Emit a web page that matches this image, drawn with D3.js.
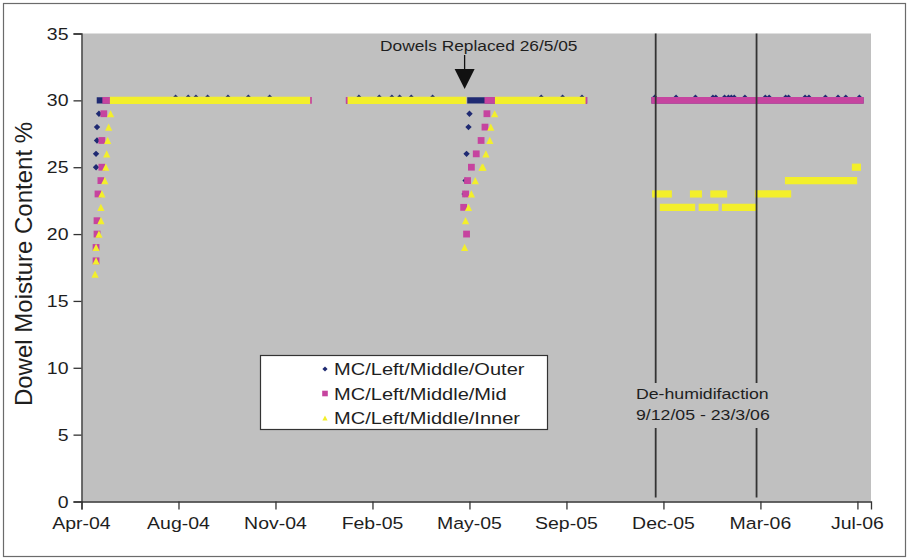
<!DOCTYPE html>
<html>
<head>
<meta charset="utf-8">
<script src="https://cdn.jsdelivr.net/npm/d3@7"></script>
<style>
  body { margin: 0; background: #ffffff; }
  svg { display: block; }
  text { font-family: "Liberation Sans", Arial, sans-serif; fill: #1e1e1e; }
</style>
</head>
<body>
<svg id="chart" width="909" height="560"></svg>
<script>
// ---- axis ticks ----
const xTickDates  = ["2004-04-26","2004-08-04","2004-11-12","2005-02-20","2005-05-31",
                     "2005-09-08","2005-12-17","2006-03-27","2006-07-05"];
const xTickLabels = ["Apr-04","Aug-04","Nov-04","Feb-05","May-05","Sep-05","Dec-05","Mar-06","Jul-06"];
const yTicks      = [0, 5, 10, 15, 20, 25, 30, 35];
const xDomain     = ["2004-04-26", "2006-07-19"];

// ---- series names ----
const seriesNames = ["MC/Left/Middle/Outer", "MC/Left/Middle/Mid", "MC/Left/Middle/Inner"];

// ---- single readings [date, moisture %] ----
const outerPoints = [
  ["2004-05-11",25],["2004-05-11",26],["2004-05-12",27],["2004-05-12",28],["2004-05-14",29],
  ["2004-08-01",30.2],["2004-08-14",30.2],["2004-08-22",30.2],["2004-09-03",30.2],["2004-09-24",30.2],
  ["2004-10-15",30.2],["2004-11-06",30.2],
  ["2005-02-06",30.2],["2005-02-27",30.2],["2005-03-12",30.2],["2005-03-20",30.2],["2005-04-01",30.2],
  ["2005-04-23",30.2],
  ["2005-05-26",23],["2005-05-27",24],["2005-05-28",26],["2005-05-30",28],["2005-05-31",29],
  ["2005-08-13",30.2],["2005-09-04",30.2],["2005-09-24",30.2],
  ["2005-12-08",30.2],["2005-12-30",30.2],["2006-01-19",30.2],["2006-02-06",30.2],["2006-02-09",30.2],
  ["2006-02-18",30.2],["2006-02-22",30.2],["2006-02-25",30.2],["2006-02-28",30.2],["2006-03-11",30.2],
  ["2006-04-01",30.2],["2006-04-05",30.2],["2006-04-22",30.2],["2006-04-25",30.2],["2006-05-12",30.2],
  ["2006-05-16",30.2],["2006-06-02",30.2],["2006-06-15",30.2],["2006-06-23",30.2],["2006-07-07",30.2]
];
const midPoints = [
  ["2004-05-11",18],["2004-05-11",19],["2004-05-12",20],["2004-05-12",21],["2004-05-13",23],
  ["2004-05-16",24],["2004-05-17",25],["2004-05-17",27],["2004-05-19",29],
  ["2005-05-25",22],["2005-05-27",23],["2005-05-28",20],["2005-05-29",24],["2005-06-02",25],
  ["2005-06-07",26],["2005-06-12",27],["2005-06-16",28],["2005-06-18",29]
];
const innerPoints = [
  ["2004-05-10",17],["2004-05-11",18],["2004-05-11",19],["2004-05-14",20],["2004-05-16",21],
  ["2004-05-16",22],["2004-05-17",23],["2004-05-20",24],["2004-05-21",25],["2004-05-22",26],
  ["2004-05-23",27],["2004-05-24",28],["2004-05-26",29],
  ["2005-05-26",19],["2005-05-27",21],["2005-05-30",22],["2005-06-02",23],["2005-06-06",24],
  ["2005-06-13",25],["2005-06-14",25],["2005-06-17",26],["2005-06-21",27],["2005-06-22",28],
  ["2005-06-26",29]
];

// ---- runs of identical daily readings [first date, last date, moisture %] ----
const outerRuns = [
  ["2004-05-15","2004-12-14",30], ["2005-01-27","2005-05-24",30],
  ["2005-06-01","2005-09-26",30], ["2005-12-08","2006-07-08",30]
];
const midRuns = [
  ["2004-05-21","2004-12-16",30], ["2005-01-27","2005-05-24",30],
  ["2005-06-19","2005-09-26",30], ["2005-12-08","2006-07-08",30]
];
const innerRuns = [
  ["2004-05-29","2004-12-14",30], ["2005-01-29","2005-05-24",30], ["2005-06-30","2005-09-24",30],
  ["2005-12-09","2005-12-22",23], ["2005-12-17","2006-01-15",22], ["2006-01-17","2006-01-22",23],
  ["2006-01-26","2006-02-08",22], ["2006-02-07","2006-02-17",23], ["2006-02-19","2006-03-20",22],
  ["2006-03-25","2006-04-24",23], ["2006-04-25","2006-07-01",24], ["2006-07-03","2006-07-05",25]
];

// ---- annotations ----
const replacedDate   = "2005-05-26";
const replacedLabel  = "Dowels Replaced 26/5/05";
const dehumidDates   = ["2005-12-09", "2006-03-23"];
const dehumidLabel   = ["De-humidifaction", "9/12/05 - 23/3/06"];
const yAxisTitle     = "Dowel Moisture Content %";

// ---------------------------------------------------------------
const parse = d3.utcParse("%Y-%m-%d");
const svg = d3.select("#chart");
const plot = { left: 81.5, right: 871, top: 33.5, bottom: 501.5 };
const SX = 1.18;             // horizontal stretch of the lettering

const x = d3.scaleUtc().domain(xDomain.map(parse)).range([plot.left, plot.right]);
const y = d3.scaleLinear().domain([0, 35]).range([plot.bottom, plot.top]);

const colors = { outer: "#1f2a72", mid: "#c6449f", inner: "#f3ef2b" };

// outer frame
svg.append("rect").attr("x", 3.5).attr("y", 3.5).attr("width", 902).attr("height", 553)
  .attr("fill", "#ffffff").attr("stroke", "#6b6b6b").attr("stroke-width", 1.2);

// plot area
svg.append("rect").attr("x", plot.left).attr("y", plot.top)
  .attr("width", plot.right - plot.left).attr("height", plot.bottom - plot.top)
  .attr("fill", "#c0c0c0");

// helper for stretched text
function label(g, tx, ty, str, size, anchor) {
  return g.append("text")
    .attr("transform", `translate(${tx},${ty}) scale(${SX},1)`)
    .attr("text-anchor", anchor).attr("font-size", size).text(str);
}

// y axis
const yAxis = svg.append("g").attr("transform", `translate(${plot.left},0)`)
  .call(d3.axisLeft(y).tickValues(yTicks).tickSize(8).tickFormat(""));
yAxis.select(".domain").attr("stroke", "#333").attr("stroke-width", 1.3);
yAxis.selectAll(".tick line").attr("stroke", "#333").attr("stroke-width", 1.3);
yTicks.forEach(v => label(svg, plot.left - 13, y(v) + 6, String(v), 16.5, "end"));

// x axis
const xAxis = svg.append("g").attr("transform", `translate(0,${plot.bottom})`)
  .call(d3.axisBottom(x).tickValues(xTickDates.map(parse)).tickSize(8).tickFormat(""));
xAxis.select(".domain").attr("stroke", "#333").attr("stroke-width", 1.3);
xAxis.selectAll(".tick line").attr("stroke", "#333").attr("stroke-width", 1.3);
xTickDates.forEach((d, i) => label(svg, x(parse(d)), 529, xTickLabels[i], 16.5, "middle"));

// y axis title
svg.append("text")
  .attr("transform", "translate(32,264) rotate(-90)")
  .attr("text-anchor", "middle").attr("font-size", 24).text(yAxisTitle);

// marker shapes
const shapes = {
  diamond:  r => `M0,${-r}L${r},0L0,${r}L${-r},0Z`,
  square:   r => `M${-r},${-r}h${2*r}v${2*r}h${-2*r}Z`,
  triangle: r => `M0,${-r}L${r},${r}L${-r},${r}Z`
};

const series = [
  { name: seriesNames[0], points: outerPoints, runs: outerRuns, color: colors.outer, shape: "diamond",  r: 3.2 },
  { name: seriesNames[1], points: midPoints,   runs: midRuns,   color: colors.mid,   shape: "square",   r: 3.4 },
  { name: seriesNames[2], points: innerPoints, runs: innerRuns, color: colors.inner, shape: "triangle", r: 3.6 }
];

const marks = svg.append("g");
series.forEach(s => {
  const g = marks.append("g");
  // dense daily readings merge into a solid band of markers
  g.selectAll("line").data(s.runs).join("line")
    .attr("x1", d => x(parse(d[0]))).attr("x2", d => x(parse(d[1])))
    .attr("y1", d => y(d[2])).attr("y2", d => y(d[2]))
    .attr("stroke", s.color).attr("stroke-width", 2 * s.r).attr("stroke-linecap", "square");
  g.selectAll("path").data(s.points).join("path")
    .attr("transform", d => `translate(${x(parse(d[0]))},${y(d[1])})`)
    .attr("d", shapes[s.shape](s.r)).attr("fill", s.color);
});

// de-humidification period lines
const dehum = svg.append("g");
dehumidDates.forEach(d => {
  dehum.append("line").attr("x1", x(parse(d))).attr("x2", x(parse(d)))
    .attr("y1", plot.top).attr("y2", plot.bottom - 4)
    .attr("stroke", "#333").attr("stroke-width", 1.8);
});
// label box over the lines
dehum.append("rect").attr("x", 633).attr("y", 383).attr("width", 150).attr("height", 45).attr("fill", "#c0c0c0");
label(dehum, 636, 399, dehumidLabel[0], 15, "start");
label(dehum, 636, 420, dehumidLabel[1], 15, "start");

// dowel replacement arrow
const ax = x(parse(replacedDate));
svg.append("line").attr("x1", ax).attr("x2", ax).attr("y1", 55).attr("y2", 72)
  .attr("stroke", "#111").attr("stroke-width", 1.3);
svg.append("path").attr("d", `M${ax - 10},69L${ax + 10},69L${ax},89Z`).attr("fill", "#111");
label(svg, 380, 51, replacedLabel, 14.7, "start");

// legend
const lg = svg.append("g");
lg.append("rect").attr("x", 260.5).attr("y", 355.5).attr("width", 287).attr("height", 74)
  .attr("fill", "#ffffff").attr("stroke", "#333").attr("stroke-width", 1.2);
const legendMarkers = [
  { shape: "diamond", r: 2.6, color: colors.outer },
  { shape: "square",  r: 2.8, color: colors.mid },
  { shape: "triangle",r: 2.6, color: colors.inner }
];
series.forEach((s, i) => {
  const cy = 369 + i * 24.5;
  lg.append("path").attr("transform", `translate(325,${cy})`)
    .attr("d", shapes[legendMarkers[i].shape](legendMarkers[i].r)).attr("fill", legendMarkers[i].color);
  label(lg, 334, cy + 6, s.name, 17, "start");
});
</script>
</body>
</html>
